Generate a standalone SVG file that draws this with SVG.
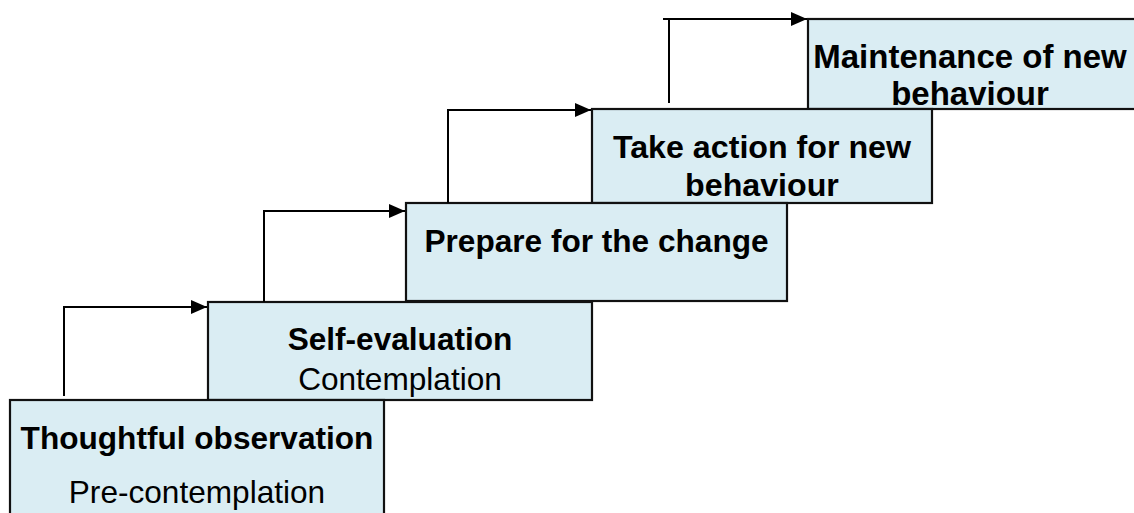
<svg xmlns="http://www.w3.org/2000/svg" width="1134" height="513" viewBox="0 0 1134 513">
<defs>
<marker id="ah" markerWidth="16" markerHeight="14" refX="16" refY="7" orient="auto" markerUnits="userSpaceOnUse">
<path d="M0,0 L16,7 L0,14 Z" fill="#000"/>
</marker>
<style>
.box{fill:#DAEDF3;stroke:#111;stroke-width:2.2}
.t{font-family:"Liberation Sans",Arial,sans-serif;font-size:31.6px;text-anchor:middle;fill:#000}
.b{font-weight:bold}
.c{fill:none;stroke:#000;stroke-width:2}
</style>
</defs>
<rect width="1134" height="513" fill="#fff"/>
<g id="n5">
<rect class="box" x="808" y="19" width="340" height="90"/>
<text class="t b" x="970" y="68" style="font-size:33px">Maintenance of new</text>
<text class="t b" x="970" y="105" style="font-size:33px">behaviour</text>
</g>
<g id="n4">
<rect class="box" x="592" y="109" width="340" height="94"/>
<text class="t b" x="762" y="158" style="font-size:32.2px">Take action for new</text>
<text class="t b" x="762" y="196" style="font-size:32.2px">behaviour</text>
</g>
<g id="n3">
<rect class="box" x="406" y="203" width="381" height="98"/>
<text class="t b" x="596.5" y="252">Prepare for the change</text>
</g>
<g id="n2">
<rect class="box" x="208" y="302" width="384" height="98"/>
<text class="t b" x="400" y="350">Self-evaluation</text>
<text class="t" x="400" y="390">Contemplation</text>
</g>
<g id="n1">
<rect class="box" x="10" y="400" width="374" height="130"/>
<text class="t b" x="197" y="449">Thoughtful observation</text>
<text class="t" x="197" y="503">Pre-contemplation</text>
</g>
<g id="connectors">
<path class="c" d="M64,396 V307 H207" marker-end="url(#ah)"/>
<path class="c" d="M264,302 V211 H405" marker-end="url(#ah)"/>
<path class="c" d="M448,203 V110 H591" marker-end="url(#ah)"/>
<path class="c" d="M669,103 V19"/>
<path class="c" d="M663,19 H807" marker-end="url(#ah)"/>
</g>
</svg>
